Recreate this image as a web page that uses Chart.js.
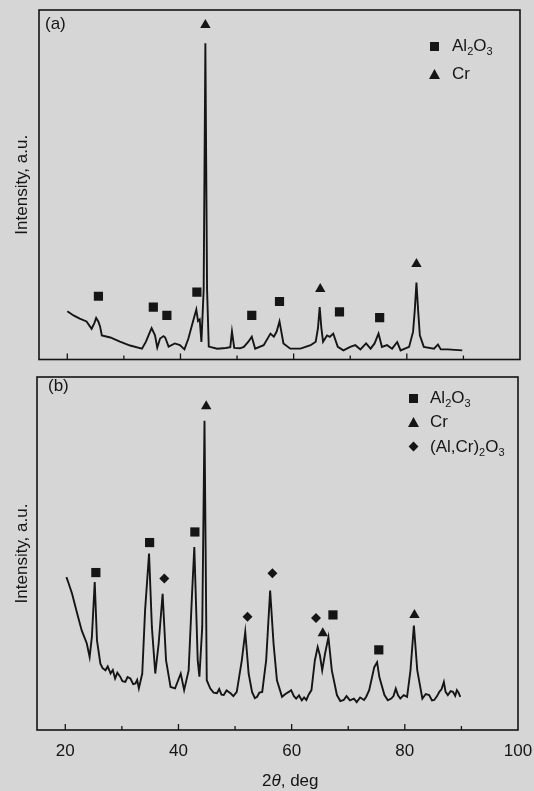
<!DOCTYPE html>
<html lang="en">
<head>
<meta charset="UTF-8">
<title>XRD patterns (a) and (b)</title>
<script src="https://cdn.jsdelivr.net/npm/chart.js"></script>
<style>
    body {
        margin: 0;
        background: #d6d6d6;
        font-family: "Liberation Sans", Arial, sans-serif;
        color: #151515;
    }

    #wrap {
        position: relative;
        width: 534px;
        height: 791px;
        overflow: hidden;
    }

    canvas {
        position: absolute;
        left: 0;
    }

    #chartA { top: 0; }
    #chartB { top: 366px; }

    .tag, .leg, .xtitle {
        position: absolute;
        font-size: 17px;
        line-height: 20px;
        white-space: nowrap;
    }

    .leg sub {
        font-size: 11px;
        vertical-align: -4px;
        line-height: 0;
    }

    .mk {
        position: absolute;
        background: #151515;
    }

    .sq { width: 9px; height: 9px; }
    .tri { width: 11px; height: 10px; clip-path: polygon(50% 0, 100% 100%, 0 100%); }
    .dia { width: 7px; height: 7px; transform: rotate(45deg); }
</style>
</head>
<body>
<div id="wrap">
    <canvas id="chartA" width="534" height="366"></canvas>
    <canvas id="chartB" width="534" height="425"></canvas>

    <div class="tag" style="left:45px; top:14px;">(a)</div>
    <div class="mk sq" style="left:430px; top:42px;"></div>
    <div class="leg" style="left:452px; top:36px;">Al<sub>2</sub>O<sub>3</sub></div>
    <div class="mk tri" style="left:429px; top:69px;"></div>
    <div class="leg" style="left:452px; top:64px;">Cr</div>

    <div class="tag" style="left:48px; top:376px;">(b)</div>
    <div class="mk sq" style="left:409px; top:394px;"></div>
    <div class="leg" style="left:430px; top:388px;">Al<sub>2</sub>O<sub>3</sub></div>
    <div class="mk tri" style="left:408px; top:417px;"></div>
    <div class="leg" style="left:430px; top:412px;">Cr</div>
    <div class="mk dia" style="left:410px; top:443px;"></div>
    <div class="leg" style="left:430px; top:437px;">(Al,Cr)<sub>2</sub>O<sub>3</sub></div>

    <div class="xtitle" style="left:262px; top:771px;">2<i>θ</i>, deg</div>
</div>

<script>
// ---- pattern (a) ----
var aTheta = [20.0, 21.1, 22.2, 23.4, 24.3, 24.8, 25.1, 25.5, 25.8, 26.1, 27.6, 29.3, 31.1, 33.2, 33.9, 34.5,
    34.9, 35.5, 35.9, 36.4, 37.0, 37.3, 37.9, 39.0, 39.9, 40.7, 41.4, 42.2, 42.8, 43.1, 43.4, 43.7, 44.1, 44.4,
    44.7, 45.0, 46.5, 48.0, 48.8, 49.1, 49.5, 50.5, 51.2, 52.0, 52.6, 53.2, 54.7, 55.9, 56.5, 57.0, 57.5, 58.2,
    59.4, 61.2, 63.0, 63.9, 64.3, 64.6, 64.9, 65.2, 65.9, 66.4, 67.0, 67.8, 68.8, 70.0, 70.9, 71.8, 72.8, 73.6,
    74.3, 75.0, 75.6, 76.5, 77.4, 78.3, 78.9, 80.4, 81.1, 81.4, 81.7, 82.0, 82.3, 83.0, 84.8, 85.5, 86.0, 87.2, 89.8];
var aIntensity = [13.8, 12.6, 11.7, 10.9, 8.8, 10.5, 11.9, 10.8, 9.4, 6.9, 6.3, 5.1, 4.0, 3.1, 5.1, 7.5,
    9.0, 6.9, 3.4, 6.0, 6.7, 6.3, 3.7, 4.6, 4.1, 2.9, 6.0, 10.8, 14.3, 11.0, 11.5, 5.0, 20.0, 90.5,
    20.0, 3.7, 3.1, 3.3, 3.5, 8.0, 3.3, 3.2, 3.6, 5.1, 6.5, 3.1, 4.1, 7.4, 6.5, 8.0, 10.9, 4.6,
    3.1, 3.1, 4.1, 5.1, 9.0, 15.0, 9.0, 5.1, 6.9, 6.5, 7.4, 3.6, 2.6, 3.6, 4.1, 2.9, 4.6, 3.1,
    4.6, 7.4, 3.6, 4.1, 3.1, 5.0, 2.6, 3.6, 7.9, 14.0, 22.0, 14.0, 6.9, 3.6, 3.1, 4.3, 2.9, 2.9, 2.6];

var aAl2O3Theta = [25.5, 35.2, 37.6, 42.9, 52.6, 57.5, 68.1, 75.2];
var aAl2O3Y = [18.1, 15.0, 12.6, 19.3, 12.6, 16.6, 13.6, 12.0];
var aCrTheta = [44.4, 64.7, 81.7];
var aCrY = [95.7, 20.2, 27.3];

// ---- pattern (b) ----
var bTheta = [20.2, 20.6, 21.2, 22.1, 22.9, 23.8, 24.3, 24.7, 25.2, 25.6, 26.2, 26.6, 27.1, 27.5, 28.0, 28.4,
    28.8, 29.2, 29.7, 30.1, 30.6, 31.0, 31.5, 32.0, 32.4, 32.7, 33.0, 33.6, 34.1, 34.8, 35.3, 35.9, 36.5, 37.2,
    37.8, 38.6, 39.4, 40.4, 41.0, 41.8, 42.4, 42.8, 43.4, 43.7, 44.2, 44.6, 45.0, 45.6, 46.2, 46.8, 47.2, 47.6,
    48.0, 48.5, 49.2, 49.7, 50.3, 51.2, 51.8, 52.4, 53.0, 53.5, 53.9, 54.3, 54.8, 55.5, 56.2, 56.8, 57.4, 58.3,
    58.9, 59.5, 59.9, 60.4, 60.8, 61.3, 61.8, 62.2, 62.6, 63.0, 63.5, 64.1, 64.6, 65.0, 65.4, 65.9, 66.5, 67.1,
    68.0, 68.6, 69.2, 69.7, 70.3, 71.0, 71.5, 72.1, 72.8, 73.2, 73.7, 74.6, 75.1, 75.5, 76.4, 77.0, 77.6, 78.0,
    78.4, 78.8, 79.2, 79.8, 80.4, 81.0, 81.6, 82.2, 83.1, 83.7, 84.3, 84.8, 85.2, 85.7, 86.1, 86.5, 86.9, 87.2,
    87.6, 88.1, 88.5, 88.9, 89.2, 89.5, 89.8];
var bIntensity = [43.3, 41.5, 38.6, 33.0, 28.2, 24.5, 20.7, 26.4, 41.9, 25.4, 18.8, 17.5, 16.9, 18.0, 16.0, 17.0,
    14.6, 16.2, 15.1, 13.8, 13.6, 15.0, 14.6, 13.0, 13.2, 14.2, 11.8, 16.0, 33.9, 50.0, 29.2, 16.0, 24.5, 38.6,
    19.8, 12.2, 11.8, 16.0, 11.3, 16.9, 38.6, 51.8, 19.8, 15.1, 29.2, 87.6, 14.1, 11.8, 10.6, 10.4, 11.6, 10.0,
    9.9, 11.2, 10.4, 9.6, 10.8, 19.8, 27.8, 16.0, 10.8, 9.0, 9.4, 10.6, 10.8, 19.8, 39.5, 24.5, 14.1, 9.4,
    10.2, 10.8, 11.3, 9.6, 8.9, 9.8, 8.4, 9.2, 8.5, 10.0, 11.3, 19.7, 23.5, 21.1, 16.9, 21.6, 26.3, 16.9,
    9.9, 8.2, 8.5, 9.6, 8.4, 8.9, 7.9, 9.2, 8.5, 9.5, 11.3, 17.8, 19.2, 15.0, 9.9, 8.4, 8.9, 9.6,
    11.7, 9.8, 8.9, 9.9, 9.4, 16.9, 29.6, 16.9, 8.9, 10.2, 9.9, 8.4, 8.5, 9.6, 10.8, 11.6, 13.6, 10.8,
    9.9, 11.0, 10.8, 9.7, 11.3, 10.6, 9.4];

var bAl2O3Theta = [25.4, 34.9, 42.9, 67.3, 75.4];
var bAl2O3Y = [44.6, 53.1, 56.1, 32.6, 22.7];
var bCrTheta = [44.9, 65.5, 81.7];
var bCrY = [91.7, 27.4, 32.6];
var bMixTheta = [37.5, 52.2, 56.6, 64.3];
var bMixY = [42.9, 32.1, 44.4, 31.7];

var xTickLabels = [20, 40, 60, 80, 100];
var xTickMarks = [20, 30, 40, 50, 60, 70, 80, 90];

var ink = '#151515';
var fonte = '"Liberation Sans", Arial, sans-serif';

function pares(xs, ys) {
    return xs.map(function (v, i) { return { x: v, y: ys[i] }; });
}

// moldura e tracinhos internos no eixo x
var moldura = {
    id: 'moldura',
    afterDraw: function (chart) {
        var ctx = chart.ctx;
        var a = chart.chartArea;
        var x = chart.scales.x;
        ctx.save();
        ctx.strokeStyle = ink;
        ctx.lineWidth = 1.6;
        ctx.strokeRect(a.left, a.top, a.right - a.left, a.bottom - a.top);
        ctx.lineWidth = 1.3;
        xTickMarks.forEach(function (v) {
            var px = x.getPixelForValue(v);
            var len = v % 20 === 0 ? 6 : 4;
            ctx.beginPath();
            ctx.moveTo(px, a.bottom);
            ctx.lineTo(px, a.bottom - len);
            ctx.stroke();
        });
        ctx.restore();
    }
};

function marcador(dados, estilo, raio) {
    return {
        data: dados,
        pointStyle: estilo,
        pointRadius: raio,
        pointHoverRadius: raio,
        backgroundColor: ink,
        borderWidth: 0,
        showLine: false
    };
}

function eixoY(largura) {
    return {
        min: 0,
        max: 100,
        ticks: { display: false },
        grid: { display: false, drawTicks: false },
        border: { display: false },
        title: {
            display: true,
            text: 'Intensity, a.u.',
            color: ink,
            font: { size: 17, family: fonte },
            padding: { top: 12, bottom: 0 }
        },
        afterFit: function (s) { s.width = largura; }
    };
}

new Chart(document.getElementById('chartA'), {
    type: 'scatter',
    data: {
        datasets: [{
            data: pares(aTheta, aIntensity),
            showLine: true,
            borderColor: ink,
            borderWidth: 1.9,
            pointRadius: 0,
            tension: 0
        },
        marcador(pares(aAl2O3Theta, aAl2O3Y), 'rect', 6.5),
        marcador(pares(aCrTheta, aCrY), 'triangle', 6)]
    },
    options: {
        responsive: false,
        animation: false,
        layout: { padding: { top: 10, right: 14, bottom: 5, left: 0 } },
        plugins: { legend: { display: false }, tooltip: { enabled: false } },
        scales: {
            x: { type: 'linear', min: 15, max: 100, display: false },
            y: eixoY(39)
        }
    },
    plugins: [moldura]
});

new Chart(document.getElementById('chartB'), {
    type: 'scatter',
    data: {
        datasets: [{
            data: pares(bTheta, bIntensity),
            showLine: true,
            borderColor: ink,
            borderWidth: 1.9,
            pointRadius: 0,
            tension: 0
        },
        marcador(pares(bAl2O3Theta, bAl2O3Y), 'rect', 6.5),
        marcador(pares(bCrTheta, bCrY), 'triangle', 6),
        marcador(pares(bMixTheta, bMixY), 'rectRot', 5)]
    },
    options: {
        responsive: false,
        animation: false,
        layout: { padding: { top: 11, right: 16, bottom: 0, left: 0 } },
        plugins: { legend: { display: false }, tooltip: { enabled: false } },
        scales: {
            x: {
                type: 'linear',
                min: 15,
                max: 100,
                grid: { display: true, color: 'rgba(0,0,0,0)', drawOnChartArea: false, drawTicks: true, tickLength: 11 },
                border: { display: false },
                ticks: { padding: 0, color: ink, font: { size: 17, family: fonte } },
                afterBuildTicks: function (s) {
                    s.ticks = xTickLabels.map(function (v) { return { value: v }; });
                },
                afterFit: function (s) { s.height = 61; }
            },
            y: eixoY(37)
        }
    },
    plugins: [moldura]
});
</script>
</body>
</html>
